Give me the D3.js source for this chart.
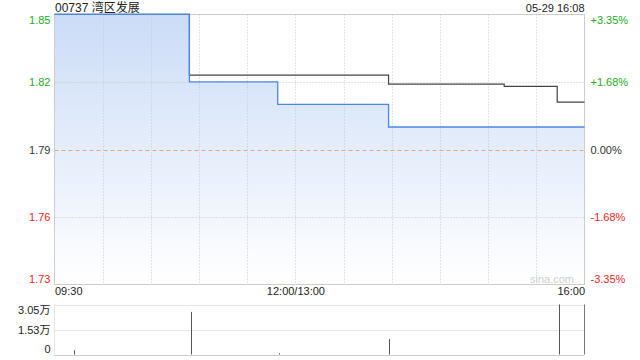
<!DOCTYPE html>
<html lang="zh">
<head>
<meta charset="utf-8">
<title>00737 湾区发展</title>
<script src="https://cdn.jsdelivr.net/npm/d3@7"></script>
<style>
  body { margin: 0; background: #fff; }
  svg text { font-family: "Liberation Sans", Arial, "Noto Sans CJK SC", sans-serif; }
  .axis .domain { display: none; }
</style>
</head>
<body>
<div id="chart"></div>
<script>
// 数据
var stockName = "00737 湾区发展";
var dateLabel = "05-29 16:08";
var prevClose = 1.79;

var priceTimes = ["09:30", "10:54", "11:49", "13:58", "16:00"];
var priceValues = [1.85, 1.82, 1.81, 1.80, 1.80];

var avgTimes = ["09:30", "10:54", "13:58", "15:10", "15:43", "16:00"];
var avgValues = [1.85, 1.823, 1.819, 1.818, 1.811, 1.811];

var volTimes = ["09:42", "10:55", "11:50", "13:58", "15:44"];
var volValues = [2600, 26000, 800, 9400, 30500];

var priceTicks = [1.85, 1.82, 1.79, 1.76, 1.73];
var pctTicks = ["+3.35%", "+1.68%", "0.00%", "-1.68%", "-3.35%"];
var timeTicks = ["09:30", "12:00", "16:00"];
var timeTickLabels = ["09:30", "12:00/13:00", "16:00"];
var gridTimes = ["10:00", "10:30", "11:00", "11:30", "12:00", "13:30", "14:00", "14:30", "15:00", "15:30"];
var volTicks = [30500, 15250, 0];
var volTickLabels = ["3.05万", "1.53万", "0"];

var green = "#22aa22", red = "#ee2222";

// 交易分钟（去掉午休）
function tmin(s) {
    var p = s.split(":"), m = +p[0] * 60 + +p[1];
    return m <= 720 ? m - 570 : m - 780 + 150;
}

var w = 640, h = 360;
var pLeft = 54.5, pRight = 584.5, pTop = 14.5, pBottom = 284.5;
var vTop = 304.5, vBottom = 354.5;

var svg = d3.select("#chart").append("svg")
    .attr("width", w).attr("height", h);

var x = d3.scaleLinear().domain([0, 330]).range([pLeft, pRight]);
var y = d3.scaleLinear()
    .domain([prevClose * (1 - 0.0335), prevClose * (1 + 0.0335)])
    .range([pBottom, pTop]);
var v = d3.scaleLinear().domain([0, d3.max(volValues)]).range([vBottom, vTop]);

// 渐变
var grad = svg.append("defs").append("linearGradient")
    .attr("id", "fillGrad").attr("gradientUnits", "userSpaceOnUse")
    .attr("x1", 0).attr("y1", pTop).attr("x2", 0).attr("y2", pBottom);
grad.append("stop").attr("offset", "0%").attr("stop-color", "#cbdcf7");
grad.append("stop").attr("offset", "100%").attr("stop-color", "#ffffff");

var priceData = priceTimes.map(function(t, i) { return [tmin(t), priceValues[i]]; });
var avgData = avgTimes.map(function(t, i) { return [tmin(t), avgValues[i]]; });

svg.append("path")
    .datum(priceData)
    .attr("fill", "url(#fillGrad)")
    .attr("d", d3.area().curve(d3.curveStepAfter)
        .x(function(d) { return x(d[0]); })
        .y0(pBottom)
        .y1(function(d) { return y(d[1]); }));

// 网格
svg.append("g").selectAll("line").data(gridTimes).enter().append("line")
    .attr("x1", function(d) { return Math.round(x(tmin(d))) + 0.5; })
    .attr("x2", function(d) { return Math.round(x(tmin(d))) + 0.5; })
    .attr("y1", pTop).attr("y2", pBottom)
    .attr("stroke", "#c8c8c8").attr("stroke-dasharray", "1,2");
svg.append("g").selectAll("line").data([priceTicks[1], priceTicks[3]]).enter().append("line")
    .attr("x1", pLeft).attr("x2", pRight)
    .attr("y1", function(d) { return Math.round(y(d)) + 0.5; })
    .attr("y2", function(d) { return Math.round(y(d)) + 0.5; })
    .attr("stroke", "#c8c8c8").attr("stroke-dasharray", "1,2");
svg.append("line")
    .attr("x1", pLeft).attr("x2", pRight)
    .attr("y1", Math.round(y(prevClose)) + 0.5).attr("y2", Math.round(y(prevClose)) + 0.5)
    .attr("stroke", "#e8a488").attr("stroke-dasharray", "4,3");

// 边框
svg.append("rect")
    .attr("x", pLeft).attr("y", pTop)
    .attr("width", pRight - pLeft).attr("height", pBottom - pTop)
    .attr("fill", "none").attr("stroke", "#cccccc");

// 均价线与价格线
svg.append("path")
    .datum(avgData)
    .attr("fill", "none").attr("stroke", "#444").attr("stroke-width", 1.2)
    .attr("d", d3.line().curve(d3.curveStepAfter)
        .x(function(d) { return x(d[0]); })
        .y(function(d) { return y(d[1]); }));
svg.append("path")
    .datum(priceData)
    .attr("fill", "none").attr("stroke", "#4a86e8").attr("stroke-width", 1.3)
    .attr("d", d3.line().curve(d3.curveStepAfter)
        .x(function(d) { return x(d[0]); })
        .y(function(d) { return y(d[1]); }));

// 坐标轴
function colorFor(i) { return i < 2 ? green : (i > 2 ? red : "#333"); }
function shiftEnds(sel, n) {
    sel.selectAll(".tick text")
        .attr("dy", function(d, i) { return i === 0 ? "0.85em" : (i === n - 1 ? "-0.2em" : "0.32em"); });
}

var yl = svg.append("g").attr("class", "axis")
    .attr("transform", "translate(" + pLeft + ",0)")
    .call(d3.axisLeft(y).tickValues(priceTicks).tickSize(0).tickPadding(4)
        .tickFormat(d3.format(".2f")));
yl.selectAll(".tick text").attr("fill", function(d, i) { return colorFor(i); }).style("font-size", "11px");
shiftEnds(yl, priceTicks.length);

var yr = svg.append("g").attr("class", "axis")
    .attr("transform", "translate(" + pRight + ",0)")
    .call(d3.axisRight(y).tickValues(priceTicks).tickSize(0).tickPadding(6)
        .tickFormat(function(d, i) { return pctTicks[i]; }));
yr.selectAll(".tick text").attr("fill", function(d, i) { return colorFor(i); }).style("font-size", "11px");
shiftEnds(yr, priceTicks.length);

var xa = svg.append("g").attr("class", "axis")
    .attr("transform", "translate(0," + pBottom + ")")
    .call(d3.axisBottom(x).tickValues(timeTicks.map(tmin)).tickSize(0).tickPadding(3)
        .tickFormat(function(d, i) { return timeTickLabels[i]; }));
xa.selectAll(".tick text")
    .attr("fill", "#222").style("font-size", "11px")
    .attr("text-anchor", function(d, i) { return i === 0 ? "start" : (i === timeTicks.length - 1 ? "end" : "middle"); });

// 标题
svg.append("text").attr("x", 55).attr("y", 11.5)
    .attr("fill", "#222").style("font-size", "12px").text(stockName);
svg.append("text").attr("x", pRight).attr("y", 11.5).attr("text-anchor", "end")
    .attr("fill", "#222").style("font-size", "11px").text(dateLabel);
svg.append("text").attr("x", 574).attr("y", 283).attr("text-anchor", "end")
    .attr("fill", "#cfcfcf").style("font-size", "11px").text("sina.com");

// 成交量
svg.append("g").selectAll("line").data(volTicks).enter().append("line")
    .attr("x1", pLeft).attr("x2", pRight)
    .attr("y1", function(d) { return Math.round(v(d)) + 0.5; })
    .attr("y2", function(d) { return Math.round(v(d)) + 0.5; })
    .attr("stroke", function(d) { return d === 0 ? "#999" : "#cccccc"; })
    .attr("stroke-dasharray", "1,1");
svg.append("line")
    .attr("x1", pLeft).attr("x2", pLeft).attr("y1", vTop).attr("y2", vBottom)
    .attr("stroke", "#cccccc").attr("stroke-dasharray", "1,1");
svg.append("line")
    .attr("x1", pRight).attr("x2", pRight).attr("y1", vTop).attr("y2", vBottom)
    .attr("stroke", "#777");

svg.append("g").selectAll("line").data(volTimes).enter().append("line")
    .attr("x1", function(d) { return Math.round(x(tmin(d))) + 0.5; })
    .attr("x2", function(d) { return Math.round(x(tmin(d))) + 0.5; })
    .attr("y1", vBottom)
    .attr("y2", function(d, i) { return v(volValues[i]); })
    .attr("stroke", "#555");

var va = svg.append("g").attr("class", "axis")
    .attr("transform", "translate(" + pLeft + ",0)")
    .call(d3.axisLeft(v).tickValues(volTicks).tickSize(0).tickPadding(4)
        .tickFormat(function(d, i) { return volTickLabels[i]; }));
va.selectAll(".tick text").attr("fill", "#222").style("font-size", "11px");
shiftEnds(va, volTicks.length);
</script>
</body>
</html>
